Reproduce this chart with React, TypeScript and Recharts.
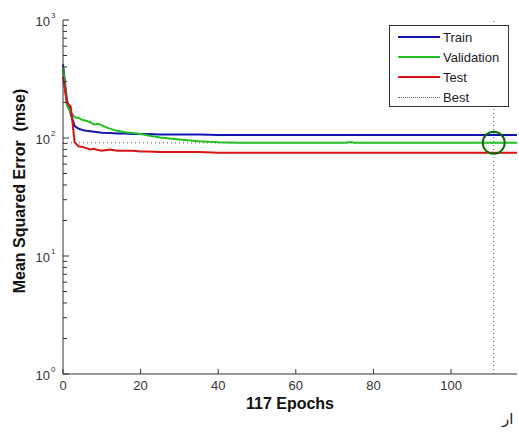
import { LineChart, Line, XAxis, YAxis, ReferenceLine, ReferenceDot, Label } from 'recharts'

const epochs = [0, 1, 2, 3, 4, 5, 6, 7, 8, 9, 10, 12, 14, 16, 18, 20, 22, 25, 30, 35, 40, 45, 50, 60, 70, 73, 74, 75, 80, 90, 100, 111, 117]
const trainMse = [420, 210, 160, 126, 120, 117, 115, 114, 113, 112, 111, 110, 109, 109, 108, 108, 108, 107, 107, 107, 106, 106, 106, 106, 106, 106, 106, 106, 106, 106, 106, 106, 106]
const validationMse = [400, 190, 165, 150, 148, 142, 140, 136, 130, 132, 128, 120, 115, 112, 110, 108, 105, 101, 97, 94, 92, 91, 91, 91, 91, 91, 92.5, 91, 91, 91, 91, 91, 91]
const testMse = [330, 200, 185, 92, 85, 84, 82, 80, 81, 79, 78, 80, 78, 78, 78, 77, 77, 76, 76, 76, 75, 75, 75, 75, 75, 75, 75, 75, 75, 75, 75, 75, 75]

const xTicks = [0, 20, 40, 60, 80, 100]
const yMajorTicks = [1, 10, 100, 1000]
const yMinorTicks = [2, 3, 4, 5, 6, 7, 8, 9, 20, 30, 40, 50, 60, 70, 80, 90, 200, 300, 400, 500, 600, 700, 800, 900]

const bestEpoch = 111
const bestValidation = 91

const data = epochs.map((epoch, i) => ({
  epoch,
  train: trainMse[i],
  validation: validationMse[i],
  test: testMse[i],
}))

const FONT = 'Arial, "Liberation Sans", Helvetica, sans-serif'

function YTick(props: any) {
  const { x, y, payload } = props
  const major = yMajorTicks.includes(payload.value)
  const exp = Math.round(Math.log10(payload.value))
  return (
    <g>
      <line x1={x} x2={x + (major ? 6 : 4)} y1={y} y2={y} stroke="#333" />
      {major && (
        <text x={x - 13} y={y + 6} textAnchor="end" fontSize={13} fill="#333" fontFamily={FONT}>10</text>
      )}
      {major && (
        <text x={x - 12} y={y - 2} fontSize={8} fill="#333" fontFamily={FONT}>{exp}</text>
      )}
    </g>
  )
}

function XTick(props: any) {
  const { x, y, payload } = props
  return (
    <g>
      <line x1={x} x2={x} y1={y} y2={y - 5} stroke="#333" />
      <text x={x} y={y + 16} textAnchor="middle" fontSize={13} fill="#333" fontFamily={FONT}>{payload.value}</text>
    </g>
  )
}

function YLabel(props: any) {
  const vb = props.viewBox
  const cx = 25
  const cy = vb.y + vb.height / 2 - 6
  return (
    <text x={cx} y={cy} transform={`rotate(-90 ${cx} ${cy})`} textAnchor="middle" fontSize={16} fontWeight="bold" fill="#111" fontFamily={FONT} style={{ whiteSpace: 'pre' }}>
      Mean Squared Error  (mse)
    </text>
  )
}

function XLabel(props: any) {
  const vb = props.viewBox
  return (
    <text x={vb.x + vb.width / 2} y={vb.y + 35} textAnchor="middle" fontSize={16} fontWeight="bold" fill="#111" fontFamily={FONT}>
      117 Epochs
    </text>
  )
}

const legendItems = [
  { name: 'Train', color: '#1414b4', dotted: false },
  { name: 'Validation', color: '#22c022', dotted: false },
  { name: 'Test', color: '#dd1111', dotted: false },
  { name: 'Best', color: '#666', dotted: true },
]

export default function App() {
  return (
    <div style={{ position: 'absolute', left: 0, top: 0, width: 519, height: 435, background: '#fff' }}>
      <LineChart width={519} height={435} data={data} margin={{ top: 20, right: 2, bottom: 0, left: 0 }}>
        <XAxis
          dataKey="epoch"
          type="number"
          domain={[0, 117]}
          ticks={xTicks}
          interval={0}
          height={61}
          tickSize={0}
          tickMargin={0}
          tickLine={false}
          tick={<XTick />}
          axisLine={{ stroke: '#333' }}
        >
          <Label content={<XLabel />} />
        </XAxis>
        <YAxis
          type="number"
          scale="log"
          domain={[1, 1000]}
          allowDataOverflow
          ticks={[...yMajorTicks, ...yMinorTicks]}
          interval={0}
          width={63}
          tickSize={0}
          tickMargin={0}
          tickLine={false}
          tick={<YTick />}
          axisLine={{ stroke: '#333' }}
        >
          <Label content={<YLabel />} />
        </YAxis>
        <ReferenceLine y={bestValidation} stroke="#555" strokeDasharray="1 3" />
        <ReferenceLine x={bestEpoch} stroke="#555" strokeDasharray="1 3" />
        <Line dataKey="train" stroke="#1414b4" strokeWidth={2} dot={false} isAnimationActive={false} />
        <Line dataKey="validation" stroke="#22c022" strokeWidth={2} dot={false} isAnimationActive={false} />
        <Line dataKey="test" stroke="#dd1111" strokeWidth={2} dot={false} isAnimationActive={false} />
        <ReferenceDot x={bestEpoch} y={bestValidation} r={11} fill="none" stroke="#0a6a0a" strokeWidth={2} />
      </LineChart>

      <div
        style={{
          position: 'absolute',
          left: 389,
          top: 25,
          width: 118,
          height: 80,
          border: '1px solid #333',
          background: '#fff',
          fontFamily: FONT,
          fontSize: 13,
          color: '#222',
        }}
      >
        {legendItems.map((item, i) => (
          <div key={item.name} style={{ position: 'absolute', left: 0, top: 3 + i * 20, height: 16, display: 'flex', alignItems: 'center' }}>
            <div
              style={{
                marginLeft: 8,
                width: 42,
                height: 0,
                borderTop: item.dotted ? `1px dotted ${item.color}` : `2px solid ${item.color}`,
              }}
            />
            <span style={{ marginLeft: 3 }}>{item.name}</span>
          </div>
        ))}
      </div>

      <div style={{ position: 'absolute', left: 502, top: 410, fontFamily: '"DejaVu Sans", "Noto Sans", sans-serif', fontSize: 15, color: '#222', direction: 'rtl' }}>
        ار
      </div>
    </div>
  )
}
